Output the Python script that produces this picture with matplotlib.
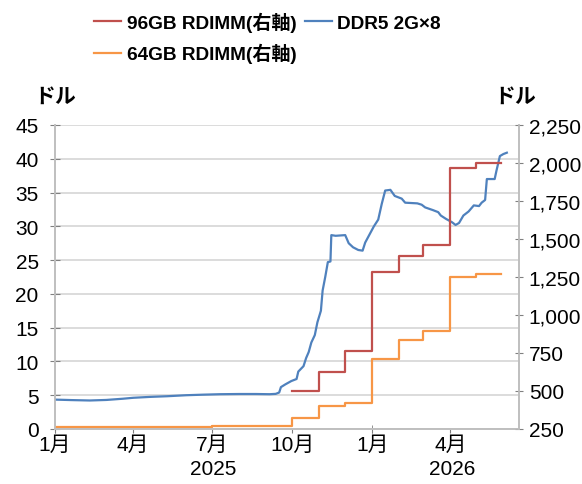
import matplotlib
matplotlib.use("Agg")
import matplotlib.pyplot as plt
import matplotlib.dates as mdates
import numpy as np
import pandas as pd

plt.rcParams['font.family'] = ['Liberation Sans', 'Noto Sans CJK JP']

# DDR5 2G×8 (left axis, USD)
ddr5_dates = ["2025-01-01", "2025-01-20", "2025-02-10", "2025-03-01", "2025-03-20", "2025-04-01",
              "2025-04-20", "2025-05-10", "2025-06-01", "2025-06-20", "2025-07-10", "2025-08-01",
              "2025-08-20", "2025-09-05", "2025-09-12", "2025-09-16", "2025-09-18", "2025-09-23",
              "2025-09-30", "2025-10-06", "2025-10-08", "2025-10-14", "2025-10-17", "2025-10-20",
              "2025-10-23", "2025-10-27", "2025-10-30", "2025-11-03", "2025-11-05", "2025-11-08",
              "2025-11-11", "2025-11-14", "2025-11-15", "2025-11-20", "2025-12-01", "2025-12-05",
              "2025-12-10", "2025-12-16", "2025-12-21", "2025-12-24", "2025-12-29", "2026-01-03",
              "2026-01-08", "2026-01-12", "2026-01-16", "2026-01-22", "2026-01-27", "2026-02-04",
              "2026-02-08", "2026-02-22", "2026-02-27", "2026-03-03", "2026-03-12", "2026-03-18",
              "2026-03-21", "2026-03-27", "2026-04-03", "2026-04-07", "2026-04-11", "2026-04-16",
              "2026-04-22", "2026-04-28", "2026-05-04", "2026-05-07", "2026-05-11", "2026-05-13",
              "2026-05-22", "2026-05-24", "2026-05-28", "2026-06-01", "2026-06-05"]
ddr5_values = [4.35, 4.28, 4.22, 4.30, 4.48, 4.62,
               4.75, 4.85, 5.00, 5.08, 5.15, 5.18,
               5.18, 5.15, 5.20, 5.40, 6.20, 6.60,
               7.10, 7.40, 8.50, 9.30, 10.5, 11.4,
               12.8, 13.9, 15.8, 17.5, 20.5, 22.5,
               24.7, 24.8, 28.7, 28.6, 28.7, 27.5,
               26.9, 26.5, 26.4, 27.6, 28.8, 30.0,
               31.0, 33.3, 35.3, 35.4, 34.5, 34.1,
               33.5, 33.4, 33.2, 32.8, 32.4, 32.1,
               31.6, 31.1, 30.6, 30.2, 30.5, 31.6,
               32.2, 33.1, 33.0, 33.5, 33.9, 37.0,
               37.0, 38.2, 40.4, 40.7, 40.9]

# 96GB RDIMM (right axis, USD) - monthly steps
r96_dates = ["2025-10-01", "2025-11-01", "2025-12-01", "2026-01-01", "2026-02-01",
             "2026-03-01", "2026-04-01", "2026-05-01", "2026-05-29"]
r96_values = [500, 625, 765, 1285, 1390, 1460, 1965, 2000, 2000]

# 64GB RDIMM (right axis, USD) - monthly steps
r64_dates = ["2025-01-01", "2025-07-01", "2025-10-01", "2025-11-01", "2025-12-01",
             "2026-01-01", "2026-02-01", "2026-03-01", "2026-04-01", "2026-05-01", "2026-05-29"]
r64_values = [260, 270, 320, 403, 418, 710, 838, 895, 1252, 1270, 1270]

tick_dates = ["2025-01-01", "2025-04-01", "2025-07-01", "2025-10-01",
              "2026-01-01", "2026-04-01"]
tick_labels = ["1月", "4月", "7月", "10月", "1月", "4月"]
year_labels = ["2025", "2026"]
year_pos = ["2025-07-02", "2026-04-03"]

c_blue = "#4F81BD"
c_red = "#C0504D"
c_orange = "#F79646"
grid_c = "#D9D9D9"
spine_c = "#BFBFBF"

fig = plt.figure(figsize=(5.82, 4.85), dpi=100)
ax = fig.add_axes([55/582, 1-430/485, (519-55)/582, (430-126)/485])
ax2 = ax.twinx()

ax.plot(pd.to_datetime(ddr5_dates), ddr5_values, color=c_blue, lw=1.6, label="DDR5 2G×8", zorder=3)
ax2.plot(pd.to_datetime(r96_dates), r96_values, color=c_red, lw=1.6, drawstyle="steps-post",
         label="96GB RDIMM(右軸)")
ax2.plot(pd.to_datetime(r64_dates), r64_values, color=c_orange, lw=1.6, drawstyle="steps-post",
         label="64GB RDIMM(右軸)")

ax.set_ylim(0, 45)
ax.set_yticks(np.arange(0, 46, 5))
ax2.set_ylim(250, 2250)
ax2.set_yticks(np.arange(250, 2251, 250))
ax2.yaxis.set_major_formatter(matplotlib.ticker.FuncFormatter(lambda v, p: f"{int(v):,}"))

ax.set_xlim(pd.Timestamp("2025-01-01"), pd.Timestamp("2026-06-19"))
ax.set_xticks(pd.to_datetime(tick_dates))
ax.set_xticklabels(tick_labels)
ax.xaxis.set_minor_locator(mdates.YearLocator())
ax.xaxis.remove_overlapping_locs = False

ax.grid(axis='y', color=grid_c, lw=1.3)
ax.set_axisbelow(True)
for a in (ax, ax2):
    a.spines['top'].set_visible(False)
    for s in ('left', 'right', 'bottom'):
        a.spines[s].set_color(spine_c)
        a.spines[s].set_linewidth(1.2)
ax.tick_params(axis='y', direction='inout', length=6.5, color='#808080', labelsize=15, pad=8.5)
ax2.tick_params(axis='y', direction='inout', length=6, color='#808080', labelsize=15, pad=4)
ax.tick_params(axis='x', which='major', direction='out', length=3, color='#808080', labelsize=15, pad=1)
ax.tick_params(axis='x', which='minor', direction='inout', length=6, color='#808080')

for lbl, pos in zip(year_labels, year_pos):
    ax.text(pd.Timestamp(pos), -0.13, lbl, transform=ax.get_xaxis_transform(),
            ha='center', va='center', fontsize=15)

fig.text(55/582, 1-97/485, "ドル", ha='center', va='center', fontsize=15, fontweight='bold')
fig.text(515/582, 1-97/485, "ドル", ha='center', va='center', fontsize=15, fontweight='bold')

h1, l1 = ax.get_legend_handles_labels()
h2, l2 = ax2.get_legend_handles_labels()
handles = [h2[0], h2[1], h1[0]]
labels = [l2[0], l2[1], l1[0]]
fig.legend(handles, labels, ncol=2, loc='upper left', bbox_to_anchor=(82/582, 1.0),
           frameon=False, prop={'size': 13.7, 'weight': 'bold'}, handlelength=1.4,
           handletextpad=0.3, columnspacing=0.45, labelspacing=0.6, borderaxespad=0.25)

fig.savefig("out.png", dpi=100)
